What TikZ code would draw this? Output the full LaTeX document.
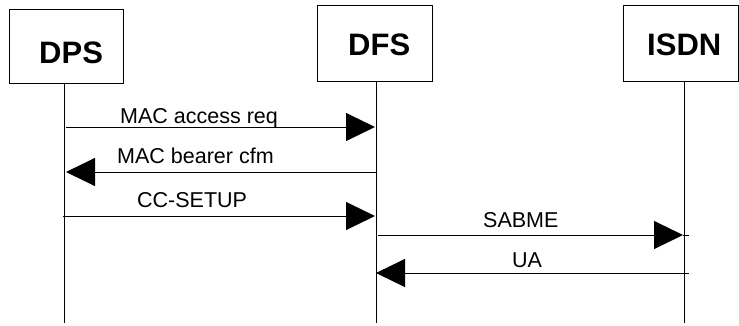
\documentclass[tikz,border=0pt]{standalone}
\usepackage{fontspec}
\setmainfont{Liberation Sans}
\usetikzlibrary{arrows.meta,calc}

\tikzset{
  entity/.style={draw, line width=1pt, inner sep=0pt},
  lifeline/.style={line width=1pt},
  msg/.style={line width=1pt, -{Triangle[length=29pt,width=28pt]}},
  msglabel/.style={anchor=base west, inner sep=0pt, font=\fontsize{21.5}{24}\selectfont},
  title/.style={anchor=base west, inner sep=0pt, font=\fontsize{31}{34}\selectfont\bfseries},
}

\begin{document}
\begin{tikzpicture}[x=1pt,y=-1pt]
			\useasboundingbox (0,0) rectangle (739,325);
			
			%%%%% ENTITIES %%%%%
			
			\node[entity, minimum width=114pt, minimum height=74pt] (dps) at (66,46) {};
			\node[title] (dpsT) at (39,63) {DPS};
			
			\node[entity, minimum width=115pt, minimum height=76pt] (dfs) at (374.5,43) {};
			\node[title] (dfsT) at (348,55) {DFS};
			
			\node[entity, minimum width=115pt, minimum height=76pt] (isdn) at (680.5,43) {};
			\node[title] (isdnT) at (647,55) {ISDN};
			
			\coordinate (dpsEnd) at (64,323);
			\coordinate (dfsEnd) at (376,323);
			\coordinate (isdnEnd) at (684,323);
			
			\draw[lifeline] (dps.south -| dpsEnd) -- (dpsEnd);
			\draw[lifeline] (dfs.south -| dfsEnd) -- (dfsEnd);
			\draw[lifeline] (isdn.south -| isdnEnd) -- (isdnEnd);
			
			%%%%% MESSAGES %%%%%
			
			\coordinate (m1a) at (66,127);
			\coordinate (m1b) at (375,127);
			\draw[msg] (m1a) -- (m1b);
			\node[msglabel] (m1) at (120,123) {MAC access req};
			
			\coordinate (m2a) at (376,172);
			\coordinate (m2b) at (66,172);
			\draw[msg] (m2a) -- (m2b);
			\node[msglabel] (m2) at (117,163) {MAC bearer cfm};
			
			\coordinate (m3a) at (63,216);
			\coordinate (m3b) at (375,216);
			\draw[msg] (m3a) -- (m3b);
			\node[msglabel] (m3) at (137,207) {CC-SETUP};
			
			\coordinate (m4a) at (378,235);
			\coordinate (m4b) at (683,235);
			\coordinate (m4c) at (689,235);
			\draw[msg] (m4a) -- (m4b);
			\draw[line width=1pt] (m4b) -- (m4c);
			\node[msglabel] (m4) at (483,227) {SABME};
			
			\coordinate (m5a) at (689,273);
			\coordinate (m5b) at (376,273);
			\draw[msg] (m5a) -- (m5b);
			\node[msglabel] (m5) at (512,267) {UA};
			
			%%%%% END %%%%%
\end{tikzpicture}
\end{document}
